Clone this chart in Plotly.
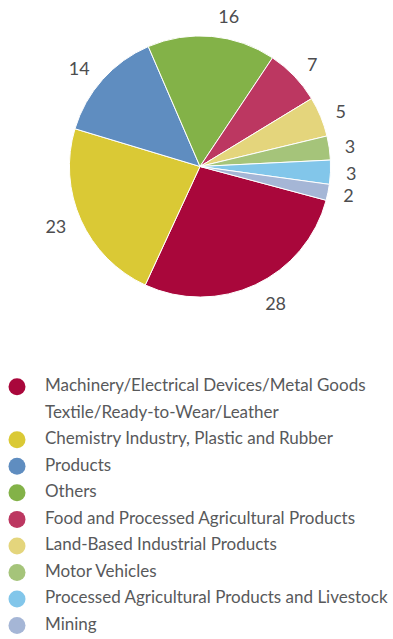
import plotly.graph_objects as go

categories = [
    "Machinery/Electrical Devices/Metal Goods",
    "Chemistry Industry, Plastic and Rubber",
    "Products",
    "Others",
    "Food and Processed Agricultural Products",
    "Land-Based Industrial Products",
    "Motor Vehicles",
    "Processed Agricultural Products and Livestock",
    "Mining",
]
values = [28, 23, 14, 16, 7, 5, 3, 3, 2]
colors = ["#A9073B", "#DAC935", "#5F8DC0", "#83B248", "#BC3761",
          "#E4D57C", "#A5C47A", "#82C6EA", "#A5B6D6"]

legend_labels = [
    "Machinery/Electrical Devices/Metal Goods",
    "Textile/Ready-to-Wear/Leather",
    "Chemistry Industry, Plastic and Rubber",
    "Products",
    "Others",
    "Food and Processed Agricultural Products",
    "Land-Based Industrial Products",
    "Motor Vehicles",
    "Processed Agricultural Products and Livestock",
    "Mining",
]
legend_colors = ["#A9073B", "rgba(0,0,0,0)", "#DAC935", "#5F8DC0", "#83B248",
                 "#BC3761", "#E4D57C", "#A5C47A", "#82C6EA", "#A5B6D6"]

W, H = 393, 639
cx, cy, r = 200, 165, 131
r_lab = 141

FONT = "Lato"
TXT = "#58595B"

fig = go.Figure()

# label carrier (transparent, slightly larger) pie
fig.add_trace(go.Pie(
    values=values, labels=categories, sort=False, direction="clockwise",
    rotation=105, marker=dict(colors=["rgba(0,0,0,0)"] * len(values), line=dict(width=0)),
    textinfo="value", textposition="outside",
    outsidetextfont=dict(family=FONT, size=18, color="#4D4D4F"),
    domain=dict(x=[(cx - r_lab) / W, (cx + r_lab) / W],
                y=[(H - cy - r_lab) / H, (H - cy + r_lab) / H]),
    showlegend=False, hoverinfo="skip",
))

fig.add_trace(go.Pie(
    values=values, labels=categories, sort=False, direction="clockwise",
    rotation=105, marker=dict(colors=colors, line=dict(color="white", width=1)),
    textinfo="none",
    domain=dict(x=[(cx - r) / W, (cx + r) / W],
                y=[(H - cy - r) / H, (H - cy + r) / H]),
    showlegend=False,
))

# legend drawn as scatter rows on hidden axes
rows = list(range(len(legend_labels)))
fig.add_trace(go.Scatter(
    x=[0] * len(rows), y=rows, mode="markers",
    marker=dict(color=legend_colors, size=17, symbol="circle", line=dict(width=0)),
    hoverinfo="skip", showlegend=False,
))
fig.add_trace(go.Scatter(
    x=[1] * len(rows), y=rows, mode="text", text=legend_labels,
    textposition="middle right",
    textfont=dict(family=FONT, size=17, color=TXT),
    hoverinfo="skip", showlegend=False,
))

row_px = 26.6
first_px = 386
unit_x = 28.0
x0_px = 17

fig.update_layout(
    width=W, height=H,
    margin=dict(l=0, r=0, t=0, b=0),
    paper_bgcolor="white", plot_bgcolor="rgba(0,0,0,0)",
    showlegend=False,
    xaxis=dict(visible=False, domain=[0, 1], fixedrange=True,
               range=[-x0_px / unit_x, (W - x0_px) / unit_x]),
    yaxis=dict(visible=False, domain=[0, 1], fixedrange=True,
               range=[(first_px - H) / row_px * -1 + 0 if False else (H - first_px) / row_px,
                      -first_px / row_px]),
    font=dict(family=FONT, color=TXT),
)

fig.write_html("out.html")
